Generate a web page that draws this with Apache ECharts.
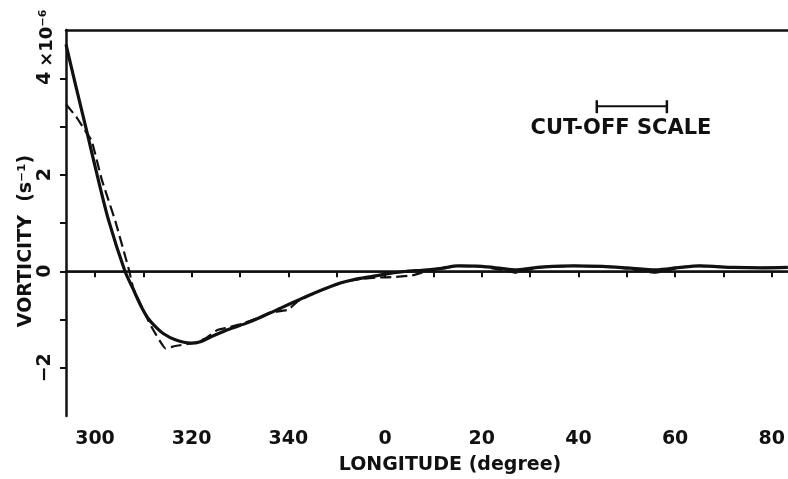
<!DOCTYPE html>
<html lang="en">
<head>
    <meta charset="UTF-8">
    <title>Vorticity along longitude</title>
    <script type="text/javascript" src="https://cdn.jsdelivr.net/npm/echarts@6/dist/echarts.min.js"></script>
</head>
<body style="margin:0;background:#fff;">
<div id="chart" style="width:788px;height:479px;"></div>
<script type="text/javascript">
    // longitude kept continuous: 360 = 0, 380 = 20 ... (labels fold it back)
    var solidLon = [294, 296, 298.3, 300.5, 302.8, 306.2, 307.8, 309.5, 311, 312.5, 314.1, 316.6, 319.8, 321.8, 324.6,
        328, 331.5, 335, 338.5, 342, 345.4, 350.9, 353.6, 357.2, 360.7, 364.5, 367.6, 371.7, 375, 380, 384, 387, 390,
        393, 399, 405, 410, 416, 421, 425, 432, 438, 443.3];
    var solidVal = [4.70, 3.85, 2.90, 1.97, 1.06, 0, -0.35, -0.72, -0.98, -1.15, -1.29, -1.42, -1.49, -1.46, -1.33,
        -1.19, -1.07, -0.92, -0.76, -0.60, -0.45, -0.24, -0.17, -0.11, -0.05, 0, 0.02, 0.06, 0.11, 0.10, 0.06, 0.03, 0.06,
        0.09, 0.11, 0.10, 0.07, 0.03, 0.08, 0.11, 0.08, 0.07, 0.08];

    var dashLon = [294, 296.2, 298.3, 299.3, 301.4, 304.2, 307.1, 307.9, 311.4, 314.6, 316.6, 321.2, 323, 325.3, 327.4,
        330, 333.7, 336, 339.9, 342, 345.4, 350.9, 355, 358.6, 362, 365.9, 369, 372, 375, 380, 384, 387, 390, 393, 399,
        405, 410, 413, 416, 419, 421, 425, 432, 438, 443.3];
    var dashVal = [3.46, 3.19, 2.86, 2.71, 1.90, 1.04, 0, -0.35, -1.10, -1.60, -1.55, -1.47, -1.38, -1.22, -1.17,
        -1.10, -0.97, -0.86, -0.80, -0.62, -0.45, -0.24, -0.16, -0.13, -0.12, -0.08, 0.02, 0.07, 0.11, 0.10, 0.03, -0.03,
        0.04, 0.09, 0.11, 0.10, 0.06, 0.0, -0.03, 0.03, 0.08, 0.11, 0.08, 0.07, 0.08];

    var xTicks = [300, 310, 320, 330, 340, 350, 360, 370, 380, 390, 400, 410, 420, 430, 440];
    var xLabels = [300, 320, 340, 360, 380, 400, 420, 440];
    var yTicks = [-2, -1, 0, 1, 2, 3, 4];
    var yLabels = [-2, 0, 2, 4];

    // cut-off scale bar, longitude ends and height
    var cutOff = [403.8, 418.3];
    var cutOffLevel = 3.42;

    var ink = '#111';
    var fam = 'DejaVu Sans';

    function pairs(xs, ys) {
        var out = [];
        for (var i = 0; i < xs.length; i++) {
            out.push([xs[i], ys[i]]);
        }
        return out;
    }

    var myChart = echarts.init(document.getElementById('chart'));
    var option = {
        animation: false,
        backgroundColor: '#fff',
        grid: {left: 66, right: 0, top: 30, bottom: 63},
        xAxis: [{
            type: 'value',
            min: 294,
            max: 443.3,
            axisLine: {lineStyle: {color: ink, width: 2.5}},
            axisTick: {customValues: xTicks, length: 6, lineStyle: {color: ink, width: 2}},
            axisLabel: {
                customValues: xLabels,
                margin: 14,
                color: ink,
                fontFamily: fam,
                fontWeight: 'bold',
                fontSize: 19,
                formatter: function (v) {
                    return v >= 360 ? v - 360 : v;
                }
            },
            splitLine: {show: false}
        }, {
            // top frame line
            type: 'value',
            position: 'top',
            min: 294,
            max: 443.3,
            axisLine: {show: true, lineStyle: {color: ink, width: 2.5}},
            axisTick: {show: false},
            axisLabel: {show: false},
            splitLine: {show: false}
        }],
        yAxis: {
            type: 'value',
            min: -3,
            max: 5,
            axisLine: {show: true, lineStyle: {color: ink, width: 2.5}},
            axisTick: {show: true, customValues: yTicks, length: 6, lineStyle: {color: ink, width: 2}},
            axisLabel: {
                customValues: yLabels,
                rotate: 90,
                margin: 11,
                color: ink,
                fontFamily: fam,
                fontWeight: 'bold',
                fontSize: 19,
                formatter: function (v) {
                    return v < 0 ? '\u2212' + (-v) : '' + v;
                }
            },
            splitLine: {show: false}
        },
        series: [{
            name: 'solid',
            type: 'line',
            data: pairs(solidLon, solidVal),
            symbol: 'none',
            smooth: 0.25,
            lineStyle: {color: ink, width: 3.2},
            markLine: {
                silent: true,
                symbol: 'none',
                label: {show: false},
                lineStyle: {color: ink, width: 1.6, type: 'solid'},
                data: [{yAxis: 0}]
            },
            z: 3
        }, {
            name: 'dashed',
            type: 'line',
            data: pairs(dashLon, dashVal),
            symbol: 'none',
            smooth: 0.1,
            lineStyle: {color: ink, width: 2.2, type: [11, 5]},
            z: 2
        }]
    };
    myChart.setOption(option);

    // annotations placed after the axes exist
    var a = myChart.convertToPixel({gridIndex: 0}, [cutOff[0], cutOffLevel]);
    var b = myChart.convertToPixel({gridIndex: 0}, [cutOff[1], cutOffLevel]);
    var txt = function (x, y, text, size, rot) {
        return {
            type: 'text',
            x: x,
            y: y,
            rotation: rot || 0,
            style: {
                text: text,
                fill: ink,
                font: 'bold ' + size + 'px "' + fam + '"',
                align: 'center',
                verticalAlign: 'middle'
            }
        };
    };
    myChart.setOption({
        graphic: [
            txt(450, 465, 'LONGITUDE (degree)', 19),
            txt(26, 241, 'VORTICITY  (s\u207B\u00B9)', 19, Math.PI / 2),
            txt(47, 38, '\u00D710\u207B\u2076', 18, Math.PI / 2),
            txt(621, 129, 'CUT-OFF SCALE', 21),
            {type: 'line', shape: {x1: a[0], y1: a[1], x2: b[0], y2: b[1]}, style: {stroke: ink, lineWidth: 2}},
            {type: 'line', shape: {x1: a[0], y1: a[1] - 6, x2: a[0], y2: a[1] + 7}, style: {stroke: ink, lineWidth: 2.5}},
            {type: 'line', shape: {x1: b[0], y1: b[1] - 6, x2: b[0], y2: b[1] + 7}, style: {stroke: ink, lineWidth: 2.5}}
        ]
    });
</script>
</body>
</html>
